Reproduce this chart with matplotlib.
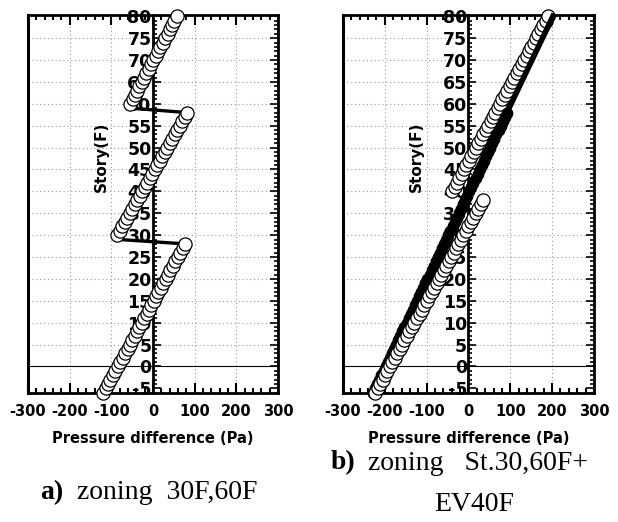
import numpy as np
import matplotlib
matplotlib.use('Agg')
import matplotlib.pyplot as plt

plt.rcParams['font.family'] = ['DejaVu Sans']
plt.rcParams['axes.unicode_minus'] = False

# ─── Data ────────────────────────────────────────────────────────────────────
stories = list(range(-6, 81))

# a) zoning 30F,60F : one series, zones joined at 29F and 59F
dp_a = [-119, -113, -108, -102, -96, -90, -85, -79, -73, -67, -61, -56, -50,
        -44, -38, -33, -27, -21, -15, -10, -4, 2, 8, 13, 19, 25, 31, 36, 42,
        48, 54, 59, 65, 71, 77,
        -80,
        -86, -80, -74, -68, -62, -56, -50, -44, -38, -32, -26, -20, -14, -8,
        -2, 4, 10, 16, 22, 28, 34, 40, 46, 52, 58, 64, 70, 76, 82,
        -52,
        -55, -49, -44, -38, -33, -27, -21, -16, -10, -5, 1, 7, 12, 18, 23,
        29, 35, 40, 46, 51, 57]
joints_a = [29, 59]          # stories drawn without marker

# b) zoning St.30,60F + EV40F
stories_b_low = list(range(-6, 39))
dp_b_low = [-223, -217, -211, -205, -200, -194, -188, -182, -176, -170, -164,
            -158, -153, -147, -141, -135, -129, -123, -117, -112, -106, -100,
            -94, -88, -82, -76, -70, -65, -59, -53, -47, -41, -35, -29, -24,
            -18, -12, -6, 0, 6, 12, 18, 23, 29, 35]
stories_b_up = list(range(40, 81))
dp_b_up = [-39, -33, -28, -22, -16, -10, -5, 1, 7, 13, 18, 24, 30, 36, 41, 47,
           53, 58, 64, 70, 76, 81, 87, 93, 99, 104, 110, 116, 122, 127, 133,
           139, 145, 150, 156, 162, 167, 173, 179, 185, 190]
dp_b_ev = [-228, -223, -218, -213, -208, -203, -198, -193, -188, -183, -178,
           -173, -168, -163, -158, -153, -148, -143, -138, -133, -128, -123,
           -118, -113, -108, -103, -98, -93, -88, -83, -78, -73, -68, -63, -58,
           -53, -48, -43, -38, -33, -28, -23, -18, -13, -8, -3, 2, 7, 12, 17,
           22, 27, 32, 37, 42, 47, 52, 57, 62, 67, 72, 77, 82, 87, 92, 97, 102,
           107, 112, 117, 122, 127, 132, 137, 142, 147, 152, 157, 162, 167, 172,
           177, 182, 187, 192, 197, 202]
ev_marker_top = 58

xticks = [-300, -200, -100, 0, 100, 200, 300]
yticks = list(range(-5, 81, 5))

# ─── Figure ──────────────────────────────────────────────────────────────────
fig = plt.figure(figsize=(6.18, 5.22), dpi=100)
ax_a = fig.add_axes([0.0453, 0.2477, 0.4045, 0.7236])
ax_b = fig.add_axes([0.555, 0.2477, 0.406, 0.7236])

WHITE = dict(marker='o', ms=9.5, mfc='white', mec='black', mew=0.9)
SERIF = ['Liberation Serif', 'DejaVu Serif']


def style_axes(ax):
    ax.set_xlim(-300, 300)
    ax.set_ylim(-6, 80.3)
    ax.spines['left'].set_position(('data', 0))
    for s in ax.spines.values():
        s.set_linewidth(2)
    ax.axvline(-300, color='black', lw=2.2, clip_on=False, zorder=6)
    ax.set_xticks(xticks)
    ax.set_xticks(np.arange(-300, 301, 20), minor=True)
    ax.set_yticks(yticks)
    ax.set_yticks(np.arange(-6, 81, 1), minor=True)
    ax.tick_params(axis='x', which='both', direction='in', top=True,
                   bottom=True, labelsize=10.5, pad=8, width=1.5)
    ax.tick_params(axis='x', which='major', length=7)
    ax.tick_params(axis='x', which='minor', length=3.5)
    ax.tick_params(axis='y', which='both', direction='in', left=True,
                   right=True, labelsize=12.5, pad=1, width=1.2)
    ax.tick_params(axis='y', which='major', length=6)
    ax.tick_params(axis='y', which='minor', length=3)
    for lab in ax.get_xticklabels() + ax.get_yticklabels():
        lab.set_fontweight('bold')
    for x in [-200, -100, 100, 200]:
        ax.axvline(x, color='#999999', lw=0.8, ls=(0, (1, 2.5)), zorder=0)
    for y in range(5, 80, 5):
        ax.axhline(y, color='#999999', lw=0.8, ls=(0, (1, 2.5)), zorder=0)
    ax.axhline(0, color='black', lw=0.8, zorder=1)
    ax.set_xlabel('Pressure difference (Pa)', fontsize=10.5,
                  fontweight='bold', labelpad=9)
    ax.text(-125, 48, 'Story(F)', rotation=90, ha='center', va='center',
            fontsize=11, fontweight='bold')


style_axes(ax_a)
style_axes(ax_b)

# a)
marked_a = [i for i, s in enumerate(stories) if s not in joints_a]
ax_a.plot(dp_a, stories, color='black', lw=2.4, markevery=marked_a,
          clip_on=False, zorder=4, **WHITE)

# b)
ax_b.plot(dp_b_up, stories_b_up, ls='none', clip_on=False, zorder=3, **WHITE)
n_ev = stories.index(ev_marker_top) + 1
ax_b.plot(dp_b_ev, stories, color='black', lw=4, marker='o', ms=7.5,
          mfc='black', mec='black', markevery=slice(0, n_ev),
          clip_on=False, zorder=4)
ax_b.plot(dp_b_low, stories_b_low, ls='none', clip_on=False, zorder=5,
          **WHITE)

# captions
fig.text(0.065, 0.057, 'a)', fontsize=20, fontweight='bold',
         family=SERIF, ha='left', va='center')
fig.text(0.125, 0.057, 'zoning  30F,60F', fontsize=20,
         family=SERIF, ha='left', va='center')
fig.text(0.535, 0.113, 'b)', fontsize=20, fontweight='bold',
         family=SERIF, ha='left', va='center')
fig.text(0.595, 0.113, 'zoning   St.30,60F+', fontsize=20,
         family=SERIF, ha='left', va='center')
fig.text(0.768, 0.033, 'EV40F', fontsize=20,
         family=SERIF, ha='center', va='center')

fig.savefig('out.png', dpi=100)
